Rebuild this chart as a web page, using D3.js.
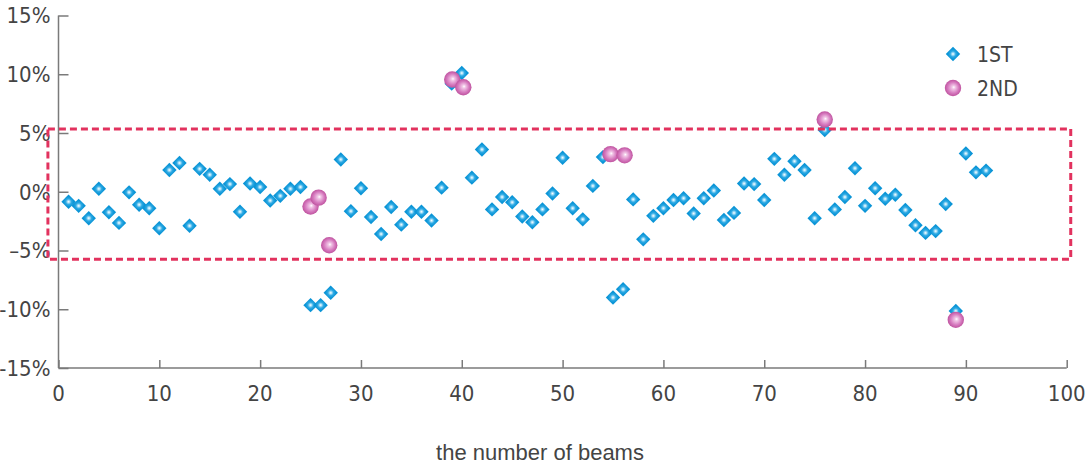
<!DOCTYPE html>
<html>
<head>
<meta charset="utf-8">
<script src="https://cdn.jsdelivr.net/npm/d3@7"></script>
<style>
  html, body { margin: 0; padding: 0; background: #fff; }
  svg { display: block; }
</style>
</head>
<body>
<figure id="beams" style="margin:0"></figure>
<script>
// beam numbers and errors (%) for the first measurement
const beams1st = [1, 2, 3, 4, 5, 6, 7, 8, 9, 10, 11, 12, 13, 14, 15, 16, 17, 18, 19, 20,
  21, 22, 23, 24, 25, 26, 27, 28, 29, 30, 31, 32, 33, 34, 35, 36, 37, 38, 39, 40,
  41, 42, 43, 44, 45, 46, 47, 48, 49, 50, 51, 52, 53, 54, 55, 56, 57, 58, 59, 60,
  61, 62, 63, 64, 65, 66, 67, 68, 69, 70, 71, 72, 73, 74, 75, 76, 77, 78, 79, 80,
  81, 82, 83, 84, 85, 86, 87, 88, 89, 90, 91, 92];
const values1st = [-0.85, -1.2, -2.25, 0.25, -1.75, -2.65, -0.05, -1.1, -1.4, -3.1,
  1.85, 2.45, -2.9, 1.95, 1.45, 0.25, 0.65, -1.7, 0.7, 0.4,
  -0.75, -0.35, 0.25, 0.4, -9.65, -9.65, -8.6, 2.75, -1.65, 0.3,
  -2.15, -3.6, -1.3, -2.8, -1.7, -1.7, -2.45, 0.35, 9.2, 10.1,
  1.2, 3.6, -1.5, -0.45, -0.9, -2.1, -2.6, -1.5, -0.15, 2.9,
  -1.4, -2.35, 0.5, 2.95, -9.0, -8.3, -0.65, -4.05, -2.05, -1.4,
  -0.7, -0.55, -1.85, -0.55, 0.1, -2.4, -1.8, 0.7, 0.65, -0.7,
  2.8, 1.45, 2.6, 1.85, -2.25, 5.25, -1.5, -0.45, 2.0, -1.2,
  0.3, -0.6, -0.25, -1.55, -2.85, -3.5, -3.35, -1.05, -10.15, 3.25,
  1.65, 1.8];

// second measurement, only the re-measured beams
const beams2nd = [25.0, 25.8, 26.85, 39.05, 40.15, 54.75, 56.15, 76.0, 89.0];
const values2nd = [-1.25, -0.5, -4.55, 9.55, 8.9, 3.2, 3.1, 6.15, -10.9];

// tolerance band drawn as dashed box (x from, x to, y from, y to)
const bandX = [-1.05, 100.4];
const bandY = [-5.75, 5.35];

const xTicks = [0, 10, 20, 30, 40, 50, 60, 70, 80, 90, 100];
const yTicks = [-15, -10, -5, 0, 5, 10, 15];
const yTickLabels = ["-15%", "-10%", "\u20135%", "0%", "5%", "10%", "15%"];
const seriesNames = ["1ST", "2ND"];

const W = 1086, H = 465;
const margin = {top: 15.5, right: 19.3, bottom: 97, left: 58.5};

const svg = d3.select("figure#beams")
  .append("svg")
  .attr("width", W)
  .attr("height", H);

const defs = svg.append("defs");

// shiny blue diamond
const gBlue = defs.append("radialGradient").attr("id", "gBlue")
  .attr("cx", "0.5").attr("cy", "0.5").attr("r", "0.5");
gBlue.append("stop").attr("offset", "0").attr("stop-color", "#ffffff");
gBlue.append("stop").attr("offset", "0.18").attr("stop-color", "#bde7fa");
gBlue.append("stop").attr("offset", "0.55").attr("stop-color", "#2eaae4");
gBlue.append("stop").attr("offset", "1").attr("stop-color", "#0a94d6");

// pink sphere
const gPink = defs.append("radialGradient").attr("id", "gPink")
  .attr("cx", "0.5").attr("cy", "0.5").attr("r", "0.5")
  .attr("fx", "0.55").attr("fy", "0.45");
gPink.append("stop").attr("offset", "0").attr("stop-color", "#ffffff");
gPink.append("stop").attr("offset", "0.2").attr("stop-color", "#f1c6e6");
gPink.append("stop").attr("offset", "0.65").attr("stop-color", "#d77cc0");
gPink.append("stop").attr("offset", "1").attr("stop-color", "#bf539f");

const x = d3.scaleLinear()
  .domain([0, 100])
  .range([margin.left, W - margin.right]);

const y = d3.scaleLinear()
  .domain([-15, 15])
  .range([H - margin.bottom, margin.top]);

const axisColor = "#7a7a7a";
const textColor = "#444";
const labelFont = "'Liberation Sans Narrow', 'DejaVu Sans Condensed', sans-serif";

// y axis, ticks pointing inward
const yAxis = svg.append("g")
  .attr("transform", `translate(${margin.left},0)`)
  .call(d3.axisRight(y).tickValues(yTicks).tickSize(10).tickFormat(""));
yAxis.select(".domain").attr("d", `M0,${y(15)}V${y(-15)}`);
yAxis.selectAll("path, line").attr("stroke", axisColor).attr("stroke-width", 1.5);

svg.append("g").selectAll("text")
  .data(yTicks)
  .join("text")
    .attr("x", margin.left - 8)
    .attr("y", d => y(d))
    .attr("dy", "0.36em")
    .attr("text-anchor", "end")
    .style("font-family", labelFont)
    .style("font-size", "22px")
    .attr("fill", textColor)
    .text((d, i) => yTickLabels[i]);

// x axis, ticks pointing up
const xAxis = svg.append("g")
  .attr("transform", `translate(0,${y(-15)})`)
  .call(d3.axisTop(x).tickValues(xTicks).tickSize(8).tickFormat(""));
xAxis.select(".domain").attr("d", `M${x(0)},0H${x(100)}`);
xAxis.selectAll("path, line").attr("stroke", axisColor).attr("stroke-width", 1.5);

svg.append("g").selectAll("text")
  .data(xTicks)
  .join("text")
    .attr("x", d => x(d))
    .attr("y", y(-15) + 25)
    .attr("dy", "0.36em")
    .attr("text-anchor", "middle")
    .style("font-family", labelFont)
    .style("font-size", "22px")
    .attr("fill", textColor)
    .text(d => d);

// axis title
svg.append("text")
  .attr("x", 540)
  .attr("y", 452)
  .attr("dy", "0.36em")
  .attr("text-anchor", "middle")
  .style("font-family", "'Liberation Sans', Arial, sans-serif")
  .style("font-size", "22px")
  .attr("fill", textColor)
  .text("the number of beams");

const diamond = d3.symbol().type(d3.symbolSquare).size(104);

// first measurement
svg.append("g").selectAll("path")
  .data(beams1st.map((b, i) => ({b: b, v: values1st[i]})))
  .join("path")
    .attr("d", diamond)
    .attr("transform", d => `translate(${x(d.b)},${y(d.v)}) rotate(45)`)
    .attr("fill", "url(#gBlue)");

// tolerance box
svg.append("rect")
  .attr("x", x(bandX[0]))
  .attr("y", y(bandY[1]))
  .attr("width", x(bandX[1]) - x(bandX[0]))
  .attr("height", y(bandY[0]) - y(bandY[1]))
  .attr("fill", "none")
  .attr("stroke", "#e2325e")
  .attr("stroke-width", 3)
  .attr("stroke-dasharray", "7,4");

// second measurement
svg.append("g").selectAll("circle")
  .data(beams2nd.map((b, i) => ({b: b, v: values2nd[i]})))
  .join("circle")
    .attr("cx", d => x(d.b))
    .attr("cy", d => y(d.v))
    .attr("r", 8.2)
    .attr("fill", "url(#gPink)");

// legend
const legend = svg.append("g").attr("transform", "translate(953,54)");
legend.append("path")
  .attr("d", diamond)
  .attr("transform", "rotate(45)")
  .attr("fill", "url(#gBlue)");
legend.append("circle")
  .attr("cy", 34)
  .attr("r", 8.2)
  .attr("fill", "url(#gPink)");
legend.selectAll("text")
  .data(seriesNames)
  .join("text")
    .attr("x", 24)
    .attr("y", (d, i) => i * 34)
    .attr("dy", "0.36em")
    .style("font-family", labelFont)
    .style("font-size", "21px")
    .attr("fill", textColor)
    .text(d => d);
</script>
</body>
</html>
